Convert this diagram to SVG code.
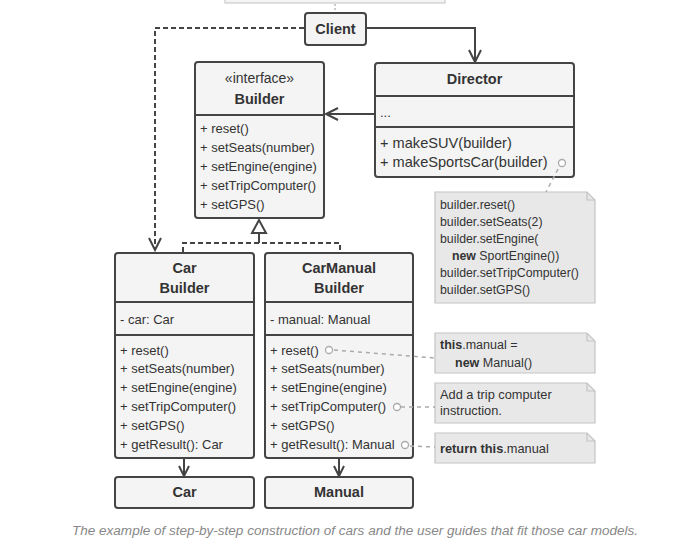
<svg xmlns="http://www.w3.org/2000/svg" width="685" height="550" viewBox="0 0 685 550">
<style>
text{font-family:"Liberation Sans",Arial,sans-serif;fill:#333;}
.box{fill:#f4f4f4;stroke:#444;stroke-width:2;}
.sep{stroke:#444;stroke-width:2;}
.t{font-size:13px;}
.b{font-weight:bold;font-size:14.5px;text-anchor:middle;}
.note{fill:#e8e8e8;stroke:#c4c4c4;stroke-width:1.2;}
.nt{font-size:12.3px;fill:#333;}
.ln{fill:none;stroke:#444;stroke-width:2;}
.dash{fill:none;stroke:#444;stroke-width:2;stroke-dasharray:5,3;}
.dot{fill:none;stroke:#aaa;stroke-width:1.5;stroke-dasharray:4,4;}
.circ{fill:#fff;stroke:#aaa;stroke-width:1.3;}
</style>
<rect width="685" height="550" fill="#fff"/>
<g id="top-box"><rect x="225" y="-20" width="220" height="23" fill="#f4f4f4" stroke="#ccc" stroke-width="1.2"/></g>
<g id="client">
<rect class="box" x="305" y="13" width="61" height="32" rx="3"/>
<text class="b" x="335.5" y="34">Client</text>
</g>
<g id="builder">
<rect class="box" x="195" y="62" width="129" height="156" rx="3"/>
<line class="sep" x1="195" y1="115" x2="324" y2="115"/>
<text class="t" x="259.5" y="83" text-anchor="middle" style="font-size:14px">«interface»</text>
<text class="b" x="259.5" y="104">Builder</text>
<text class="t" x="200" y="133">+ reset()</text>
<text class="t" x="200" y="152">+ setSeats(number)</text>
<text class="t" x="200" y="171">+ setEngine(engine)</text>
<text class="t" x="200" y="190">+ setTripComputer()</text>
<text class="t" x="200" y="209">+ setGPS()</text>
</g>
<g id="director">
<rect class="box" x="375" y="63" width="199" height="114" rx="3"/>
<line class="sep" x1="375" y1="96" x2="574" y2="96"/>
<line class="sep" x1="375" y1="127" x2="574" y2="127"/>
<text class="b" x="474.5" y="84">Director</text>
<text class="t" x="380" y="117">...</text>
<text class="t" x="380" y="148" style="font-size:14.6px">+ makeSUV(builder)</text>
<text class="t" x="380" y="167" style="font-size:14.6px">+ makeSportsCar(builder)</text>
<circle class="circ" cx="562" cy="163" r="3.5"/>
</g>
<g id="carbuilder">
<rect class="box" x="115" y="253" width="139" height="205" rx="3"/>
<line class="sep" x1="115" y1="302" x2="254" y2="302"/>
<line class="sep" x1="115" y1="335" x2="254" y2="335"/>
<text class="b" x="184.5" y="273">Car</text>
<text class="b" x="184.5" y="293">Builder</text>
<text class="t" x="120" y="324">- car: Car</text>
<text class="t" x="120" y="355">+ reset()</text>
<text class="t" x="120" y="373">+ setSeats(number)</text>
<text class="t" x="120" y="392">+ setEngine(engine)</text>
<text class="t" x="120" y="411">+ setTripComputer()</text>
<text class="t" x="120" y="430">+ setGPS()</text>
<text class="t" x="120" y="449">+ getResult(): Car</text>
</g>
<g id="carmanualbuilder">
<rect class="box" x="265" y="253" width="148" height="205" rx="3"/>
<line class="sep" x1="265" y1="302" x2="413" y2="302"/>
<line class="sep" x1="265" y1="335" x2="413" y2="335"/>
<text class="b" x="339" y="273">CarManual</text>
<text class="b" x="339" y="293">Builder</text>
<text class="t" x="270" y="324">- manual: Manual</text>
<text class="t" x="270" y="355">+ reset()</text>
<circle class="circ" cx="329" cy="350" r="3.5"/>
<text class="t" x="270" y="373">+ setSeats(number)</text>
<text class="t" x="270" y="392">+ setEngine(engine)</text>
<text class="t" x="270" y="411">+ setTripComputer()</text>
<circle class="circ" cx="397" cy="407" r="3.5"/>
<text class="t" x="270" y="430">+ setGPS()</text>
<text class="t" x="270" y="449">+ getResult(): Manual</text>
<circle class="circ" cx="405" cy="445" r="3.5"/>
</g>
<g id="car">
<rect class="box" x="115" y="477" width="139" height="31" rx="3"/>
<text class="b" x="184.5" y="497">Car</text>
</g>
<g id="manual">
<rect class="box" x="265" y="477" width="148" height="31" rx="3"/>
<text class="b" x="339" y="497">Manual</text>
</g>
<g id="note-director">
<path class="note" d="M435,192 H587 L595,200 V303 H435 Z"/>
<path d="M587,192 V200 H595" fill="none" stroke="#c4c4c4" stroke-width="1.2"/>
<text class="nt" x="440" y="209">builder.reset()</text>
<text class="nt" x="440" y="226">builder.setSeats(2)</text>
<text class="nt" x="440" y="243">builder.setEngine(</text>
<text class="nt" x="452" y="260"><tspan font-weight="bold">new</tspan> SportEngine())</text>
<text class="nt" x="440" y="277">builder.setTripComputer()</text>
<text class="nt" x="440" y="294">builder.setGPS()</text>
</g>
<g id="note-reset">
<path class="note" d="M435,333 H587 L595,341 V373 H435 Z"/>
<path d="M587,333 V341 H595" fill="none" stroke="#c4c4c4" stroke-width="1.2"/>
<text class="nt" x="440" y="349" style="font-size:12.5px"><tspan font-weight="bold">this</tspan>.manual =</text>
<text class="nt" x="455" y="367" style="font-size:12.5px"><tspan font-weight="bold">new</tspan> Manual()</text>
</g>
<g id="note-trip">
<path class="note" d="M435,383 H587 L595,391 V423 H435 Z"/>
<path d="M587,383 V391 H595" fill="none" stroke="#c4c4c4" stroke-width="1.2"/>
<text class="nt" x="440" y="399" style="font-size:12.8px">Add a trip computer</text>
<text class="nt" x="440" y="415" style="font-size:12.8px">instruction.</text>
</g>
<g id="note-result">
<path class="note" d="M435,433 H587 L595,441 V463 H435 Z"/>
<path d="M587,433 V441 H595" fill="none" stroke="#c4c4c4" stroke-width="1.2"/>
<text class="nt" x="440" y="453" style="font-size:12.8px"><tspan font-weight="bold">return this</tspan>.manual</text>
</g>
<g id="connectors">
<line x1="335" y1="4" x2="335" y2="12" stroke="#bbb" stroke-width="1.5" stroke-dasharray="2,2"/>
<polyline class="ln" points="367,28 475,28 475,62"/>
<polyline class="ln" points="469,50 475,62 481,50"/>
<polyline class="dash" points="304,28 155,28 155,250"/>
<polyline class="ln" points="149,238 155,250 161,238"/>
<line class="ln" x1="374" y1="114" x2="326" y2="114"/>
<polyline class="ln" points="338,108 326,114 338,120"/>
<polygon points="259,220 252,233 266,233" fill="#fff" stroke="#444" stroke-width="2"/>
<line class="ln" x1="259" y1="233" x2="259" y2="243"/>
<polyline class="dash" points="183,252 183,243 340,243 340,252"/>
<line class="ln" x1="184" y1="459" x2="184" y2="476"/>
<polyline class="ln" points="179,466 184,476 189,466"/>
<line class="ln" x1="339" y1="459" x2="339" y2="476"/>
<polyline class="ln" points="334,466 339,476 344,466"/>
<line class="dot" x1="558" y1="169" x2="546" y2="192"/>
<line class="dot" x1="334" y1="350" x2="435" y2="358"/>
<line class="dot" x1="401" y1="407" x2="435" y2="407"/>
<line class="dot" x1="410" y1="446" x2="435" y2="447"/>
</g>
<text x="355" y="535" text-anchor="middle" font-style="italic" font-size="12.5" style="fill:#888" textLength="566" lengthAdjust="spacingAndGlyphs">The example of step-by-step construction of cars and the user guides that fit those car models.</text>
</svg>
